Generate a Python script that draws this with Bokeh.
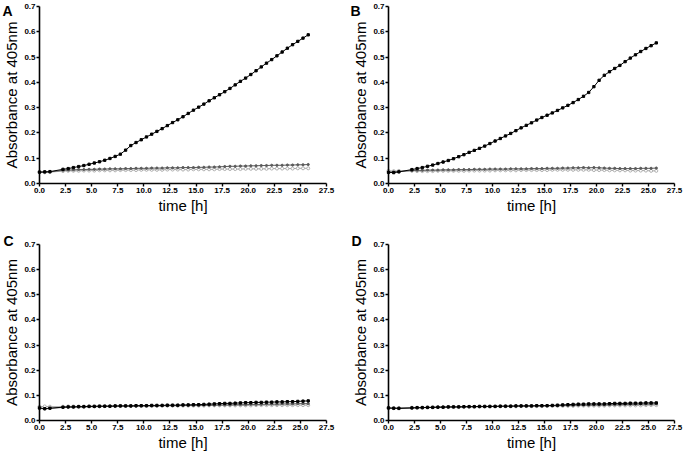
from bokeh.plotting import figure
from bokeh.models import Range1d, Label, FixedTicker, NumeralTickFormatter
from bokeh.layouts import gridplot
from bokeh.embed import file_html
from bokeh.resources import INLINE

T = [0.0, 0.5, 1.0, 2.25, 2.75, 3.25, 3.75, 4.25, 4.75, 5.25, 5.75, 6.25, 6.75,
     7.25, 7.75, 8.25, 8.75, 9.25, 9.75, 10.25, 10.75, 11.25, 11.75, 12.25, 12.75,
     13.25, 13.75, 14.25, 14.75, 15.25, 15.75, 16.25, 16.75, 17.25, 17.75, 18.25,
     18.75, 19.25, 19.75, 20.25, 20.75, 21.25, 21.75, 22.25, 22.75, 23.25, 23.75,
     24.25, 24.75, 25.25, 25.75]

X_TICKS = [0.0, 2.5, 5.0, 7.5, 10.0, 12.5, 15.0, 17.5, 20.0, 22.5, 25.0, 27.5]
Y_TICKS = [0.0, 0.1, 0.2, 0.3, 0.4, 0.5, 0.6, 0.7]
X_MAX = 27.5
Y_MAX = 0.7

A_black = [0.045, 0.046, 0.047,
           0.056, 0.059, 0.063, 0.067, 0.071, 0.076, 0.081, 0.086,
           0.092, 0.099, 0.107, 0.116, 0.132, 0.150, 0.162, 0.173,
           0.184, 0.195, 0.206, 0.217, 0.229, 0.241, 0.252, 0.264,
           0.277, 0.290, 0.302, 0.314, 0.327, 0.339, 0.351, 0.363,
           0.376, 0.390, 0.404, 0.417, 0.431, 0.446, 0.461, 0.476,
           0.490, 0.505, 0.520, 0.535, 0.549, 0.562, 0.575, 0.588]
A_dark = [0.044, 0.045, 0.046,
          0.052, 0.053, 0.054, 0.055, 0.055, 0.056, 0.056, 0.057,
          0.057, 0.058, 0.058, 0.058, 0.059, 0.059, 0.060, 0.060,
          0.060, 0.061, 0.061, 0.061, 0.062, 0.062, 0.062, 0.063,
          0.063, 0.063, 0.064, 0.064, 0.065, 0.065, 0.066, 0.067,
          0.068, 0.068, 0.069, 0.069, 0.070, 0.070, 0.071, 0.071,
          0.072, 0.072, 0.072, 0.073, 0.073, 0.074, 0.074, 0.075]
A_light = [0.046, 0.044, 0.045,
           0.049, 0.050, 0.050, 0.050, 0.051, 0.051, 0.051, 0.052,
           0.052, 0.052, 0.052, 0.053, 0.053, 0.053, 0.053, 0.054,
           0.054, 0.054, 0.054, 0.054, 0.055, 0.055, 0.055, 0.055,
           0.055, 0.056, 0.056, 0.056, 0.056, 0.056, 0.057, 0.057,
           0.057, 0.057, 0.057, 0.058, 0.058, 0.058, 0.058, 0.058,
           0.059, 0.059, 0.059, 0.059, 0.059, 0.060, 0.060, 0.060]

B_black = [0.044, 0.043, 0.046,
           0.055, 0.059, 0.063, 0.068, 0.073, 0.079, 0.085, 0.091,
           0.098, 0.106, 0.114, 0.123, 0.131, 0.139, 0.148, 0.158,
           0.168, 0.178, 0.188, 0.198, 0.209, 0.220, 0.230, 0.240,
           0.251, 0.261, 0.270, 0.279, 0.289, 0.299, 0.309, 0.320,
           0.332, 0.345, 0.360, 0.383, 0.408, 0.428, 0.442, 0.455,
           0.467, 0.482, 0.496, 0.509, 0.522, 0.534, 0.545, 0.556]
B_dark = [0.045, 0.046, 0.047,
          0.051, 0.052, 0.052, 0.053, 0.053, 0.053, 0.054, 0.054,
          0.054, 0.055, 0.055, 0.055, 0.056, 0.056, 0.056, 0.057,
          0.057, 0.057, 0.057, 0.058, 0.058, 0.058, 0.058, 0.059,
          0.059, 0.059, 0.060, 0.060, 0.060, 0.061, 0.061, 0.062,
          0.062, 0.063, 0.062, 0.063, 0.062, 0.061, 0.060, 0.060,
          0.059, 0.059, 0.059, 0.059, 0.060, 0.060, 0.060, 0.061]
B_light = [0.050, 0.049, 0.050,
           0.050, 0.049, 0.049, 0.049, 0.049, 0.050, 0.050, 0.050,
           0.050, 0.050, 0.050, 0.051, 0.051, 0.051, 0.051, 0.051,
           0.052, 0.052, 0.052, 0.052, 0.052, 0.053, 0.053, 0.053,
           0.053, 0.053, 0.053, 0.054, 0.054, 0.054, 0.054, 0.054,
           0.054, 0.054, 0.054, 0.053, 0.053, 0.053, 0.052, 0.052,
           0.052, 0.052, 0.051, 0.051, 0.051, 0.051, 0.050, 0.050]

C_black = [0.050, 0.047, 0.049,
           0.053, 0.054, 0.054, 0.055, 0.055, 0.056, 0.056, 0.057,
           0.057, 0.057, 0.058, 0.058, 0.058, 0.058, 0.059, 0.059,
           0.059, 0.060, 0.060, 0.060, 0.061, 0.061, 0.061, 0.062,
           0.062, 0.063, 0.063, 0.064, 0.065, 0.066, 0.067, 0.068,
           0.068, 0.069, 0.070, 0.071, 0.071, 0.072, 0.072, 0.073,
           0.073, 0.074, 0.074, 0.075, 0.075, 0.076, 0.077, 0.078]
C_dark = [0.048, 0.046, 0.048,
          0.052, 0.053, 0.053, 0.054, 0.054, 0.055, 0.055, 0.055,
          0.056, 0.056, 0.056, 0.057, 0.057, 0.057, 0.057, 0.058,
          0.058, 0.058, 0.058, 0.059, 0.059, 0.059, 0.059, 0.060,
          0.060, 0.060, 0.060, 0.061, 0.061, 0.061, 0.062, 0.062,
          0.062, 0.063, 0.063, 0.063, 0.064, 0.064, 0.064, 0.065,
          0.065, 0.065, 0.066, 0.066, 0.066, 0.067, 0.067, 0.067]
C_light = [0.055, 0.056, 0.055,
           0.055, 0.056, 0.056, 0.056, 0.056, 0.057, 0.057, 0.057,
           0.057, 0.057, 0.057, 0.058, 0.058, 0.058, 0.058, 0.058,
           0.058, 0.058, 0.058, 0.059, 0.059, 0.059, 0.059, 0.059,
           0.059, 0.059, 0.059, 0.059, 0.060, 0.060, 0.060, 0.060,
           0.060, 0.060, 0.060, 0.060, 0.060, 0.061, 0.061, 0.061,
           0.061, 0.061, 0.061, 0.061, 0.061, 0.061, 0.061, 0.061]

D_black = [0.050, 0.049, 0.048,
           0.050, 0.051, 0.051, 0.052, 0.052, 0.053, 0.053, 0.054,
           0.054, 0.054, 0.055, 0.055, 0.055, 0.056, 0.056, 0.056,
           0.056, 0.057, 0.057, 0.057, 0.058, 0.058, 0.058, 0.058,
           0.059, 0.059, 0.059, 0.060, 0.061, 0.062, 0.063, 0.064,
           0.065, 0.065, 0.066, 0.066, 0.066, 0.066, 0.067, 0.068,
           0.068, 0.068, 0.069, 0.069, 0.069, 0.070, 0.070, 0.070]
D_dark = [0.049, 0.048, 0.049,
          0.050, 0.051, 0.051, 0.052, 0.052, 0.053, 0.053, 0.053,
          0.054, 0.054, 0.054, 0.055, 0.055, 0.055, 0.055, 0.056,
          0.056, 0.056, 0.057, 0.057, 0.057, 0.057, 0.058, 0.058,
          0.058, 0.058, 0.059, 0.059, 0.059, 0.060, 0.060, 0.060,
          0.061, 0.061, 0.061, 0.062, 0.062, 0.062, 0.063, 0.063,
          0.063, 0.064, 0.064, 0.064, 0.065, 0.065, 0.065, 0.066]
D_light = [0.050, 0.049, 0.050,
           0.051, 0.051, 0.052, 0.052, 0.053, 0.053, 0.053, 0.054,
           0.054, 0.054, 0.054, 0.055, 0.055, 0.055, 0.055, 0.055,
           0.056, 0.056, 0.056, 0.056, 0.056, 0.057, 0.057, 0.057,
           0.057, 0.057, 0.058, 0.058, 0.058, 0.058, 0.058, 0.058,
           0.059, 0.059, 0.059, 0.059, 0.059, 0.059, 0.060, 0.060,
           0.060, 0.060, 0.060, 0.060, 0.060, 0.061, 0.061, 0.061]

PANELS = [("A", A_black, A_dark, A_light),
          ("B", B_black, B_dark, B_light),
          ("C", C_black, C_dark, C_light),
          ("D", D_black, D_dark, D_light)]

FONT = "Liberation Sans"


def make_panel(letter, black, dark, light, W, H, ax_x, end_x, top_y, zero_y,
               letter_x, letter_top):
    # pixel layout -> ranges (axes drawn at data 0 via fixed_location)
    kx = (end_x - ax_x) / X_MAX
    ky = (zero_y - top_y) / Y_MAX
    xr = Range1d(-ax_x / kx, X_MAX + (W - end_x) / kx)
    yr = Range1d(-(H - zero_y) / ky, Y_MAX + top_y / ky)
    p = figure(width=W, height=H, x_range=xr, y_range=yr,
               output_backend="svg", toolbar_location=None,
               min_border_left=0, min_border_right=0,
               min_border_top=0, min_border_bottom=0)
    p.outline_line_color = None
    p.xgrid.visible = False
    p.ygrid.visible = False

    p.line(T, light, line_color="#a8a8a8", line_width=1)
    p.scatter(T, light, marker="circle", size=3.0, line_color="#a0a0a0",
              fill_color="white", line_width=0.8)
    p.line(T, dark, line_color="#5a5a5a", line_width=1)
    p.scatter(T, dark, marker="circle", size=2.2, line_color="#5a5a5a",
              fill_color="#5a5a5a")
    p.line(T, black, line_color="black", line_width=1)
    p.scatter(T, black, marker="square", size=2.3, line_color="black",
              fill_color="black")

    for ax in (p.xaxis[0], p.yaxis[0]):
        ax.fixed_location = 0
        ax.axis_line_color = "black"
        ax.axis_line_width = 1.6
        ax.major_tick_line_color = "black"
        ax.major_tick_line_width = 1.4
        ax.major_tick_out = 3
        ax.major_tick_in = 0
        ax.minor_tick_line_color = None
        ax.major_label_text_font = FONT
        ax.major_label_text_font_style = "bold"
        ax.major_label_text_font_size = "8px"
        ax.major_label_text_color = "black"
        ax.major_label_standoff = 1
        ax.axis_label_text_font = FONT
        ax.axis_label_text_font_style = "normal"
        ax.axis_label_text_font_size = "15px"
        ax.axis_label_text_color = "black"
        ax.axis_label_standoff = 1
        ax.formatter = NumeralTickFormatter(format="0.0")

    p.xaxis[0].bounds = (0, X_MAX)
    p.yaxis[0].bounds = (0, Y_MAX)
    p.xaxis[0].ticker = FixedTicker(ticks=X_TICKS)
    p.yaxis[0].ticker = FixedTicker(ticks=Y_TICKS)
    p.xaxis[0].axis_label = "time [h]"
    p.yaxis[0].axis_label = "Absorbance at 405nm"

    p.add_layout(Label(x=letter_x, y=H - letter_top, x_units="screen",
                       y_units="screen", text=letter, text_font=FONT,
                       text_font_style="bold", text_font_size="14px",
                       text_color="black", text_baseline="top"))
    return p


pA = make_panel(*PANELS[0], W=341, H=228, ax_x=39, end_x=326, top_y=6, zero_y=183,
                letter_x=2, letter_top=2)
pB = make_panel(*PANELS[1], W=342, H=228, ax_x=47, end_x=333, top_y=6, zero_y=183,
                letter_x=9, letter_top=2)
pC = make_panel(*PANELS[2], W=341, H=225, ax_x=39, end_x=326, top_y=16, zero_y=192,
                letter_x=3, letter_top=4)
pD = make_panel(*PANELS[3], W=342, H=225, ax_x=47, end_x=333, top_y=16, zero_y=192,
                letter_x=10, letter_top=4)

grid = gridplot([[pA, pB], [pC, pD]], toolbar_location=None)

open("out.html", "w").write(file_html(grid, INLINE))
